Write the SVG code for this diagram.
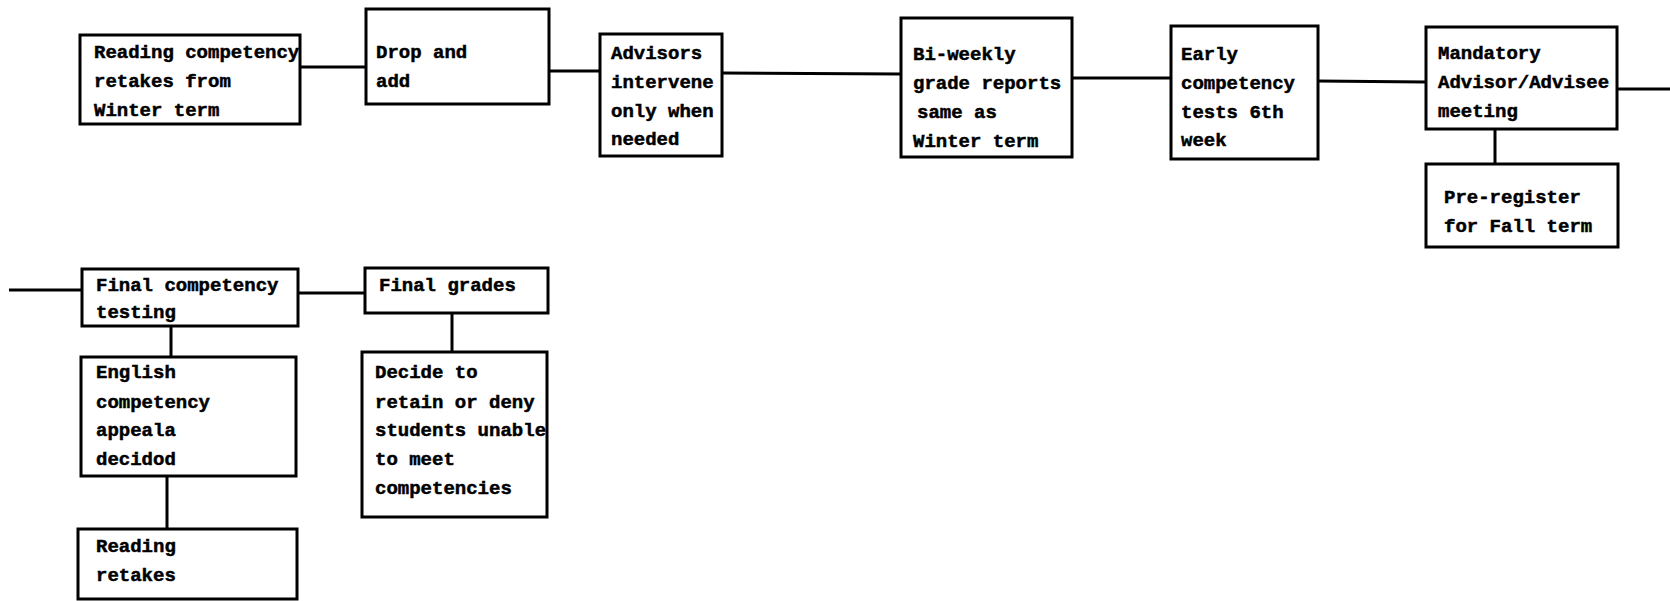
<svg xmlns="http://www.w3.org/2000/svg" width="1670" height="601" viewBox="0 0 1670 601">
  <style>
    .box { fill: #ffffff; stroke: #000000; stroke-width: 3; }
    .link { fill: none; stroke: #000000; stroke-width: 3; }
    text { font-family: "Liberation Mono", "DejaVu Sans Mono", monospace; font-size: 19px; font-weight: bold; fill: #000000; stroke: #000000; stroke-width: 0.5; }
  </style>
  <rect width="1670" height="601" fill="#ffffff"/>

  <!-- connectors -->
  <g id="connectors">
    <line class="link" x1="300" y1="67" x2="366" y2="67"/>
    <line class="link" x1="549" y1="71" x2="600" y2="71"/>
    <line class="link" x1="722" y1="73" x2="901" y2="74"/>
    <line class="link" x1="1072" y1="78" x2="1171" y2="78"/>
    <line class="link" x1="1318" y1="81" x2="1426" y2="82"/>
    <line class="link" x1="1617" y1="89" x2="1670" y2="89"/>
    <line class="link" x1="1495" y1="129" x2="1495" y2="164"/>
    <line class="link" x1="9" y1="290" x2="82" y2="290"/>
    <line class="link" x1="298" y1="293" x2="365" y2="293"/>
    <line class="link" x1="171" y1="326" x2="171" y2="357"/>
    <line class="link" x1="452" y1="313" x2="452" y2="352"/>
    <line class="link" x1="167" y1="476" x2="167" y2="529"/>
  </g>

  <g id="reading-competency-retakes">
    <rect class="box" x="80" y="35" width="220" height="89"/>
    <text x="94" y="58">Reading competency</text>
    <text x="94" y="87">retakes from</text>
    <text x="94" y="116">Winter term</text>
  </g>

  <g id="drop-and-add">
    <rect class="box" x="366" y="9" width="183" height="95"/>
    <text x="376" y="58">Drop and</text>
    <text x="376" y="87">add</text>
  </g>

  <g id="advisors-intervene">
    <rect class="box" x="600" y="34" width="122" height="122"/>
    <text x="611" y="59">Advisors</text>
    <text x="611" y="88">intervene</text>
    <text x="611" y="117">only when</text>
    <text x="611" y="145">needed</text>
  </g>

  <g id="biweekly-grade-reports">
    <rect class="box" x="901" y="18" width="171" height="139"/>
    <text x="913" y="60">Bi-weekly</text>
    <text x="913" y="89">grade reports</text>
    <text x="917" y="118">same as</text>
    <text x="913" y="147">Winter term</text>
  </g>

  <g id="early-competency-tests">
    <rect class="box" x="1171" y="26" width="147" height="133"/>
    <text x="1181" y="60">Early</text>
    <text x="1181" y="89">competency</text>
    <text x="1181" y="118">tests 6th</text>
    <text x="1181" y="146">week</text>
  </g>

  <g id="advisor-advisee-meeting">
    <rect class="box" x="1426" y="27" width="191" height="102"/>
    <text x="1438" y="59">Mandatory</text>
    <text x="1438" y="88">Advisor/Advisee</text>
    <text x="1438" y="117">meeting</text>
  </g>

  <g id="pre-register">
    <rect class="box" x="1426" y="164" width="192" height="83"/>
    <text x="1444" y="203">Pre-register</text>
    <text x="1444" y="232">for Fall term</text>
  </g>

  <g id="final-competency-testing">
    <rect class="box" x="82" y="269" width="216" height="57"/>
    <text x="96" y="291">Final competency</text>
    <text x="96" y="318">testing</text>
  </g>

  <g id="final-grades">
    <rect class="box" x="365" y="268" width="183" height="45"/>
    <text x="379" y="291">Final grades</text>
  </g>

  <g id="english-appeals">
    <rect class="box" x="81" y="357" width="215" height="119"/>
    <text x="96" y="378">English</text>
    <text x="96" y="408">competency</text>
    <text x="96" y="436">appeala</text>
    <text x="96" y="465">decidod</text>
  </g>

  <g id="retain-or-deny">
    <rect class="box" x="362" y="352" width="185" height="165"/>
    <text x="375" y="378">Decide to</text>
    <text x="375" y="408">retain or deny</text>
    <text x="375" y="436">students unable</text>
    <text x="375" y="465">to meet</text>
    <text x="375" y="494">competencies</text>
  </g>

  <g id="reading-retakes">
    <rect class="box" x="78" y="529" width="219" height="70"/>
    <text x="96" y="552">Reading</text>
    <text x="96" y="581">retakes</text>
  </g>
</svg>
